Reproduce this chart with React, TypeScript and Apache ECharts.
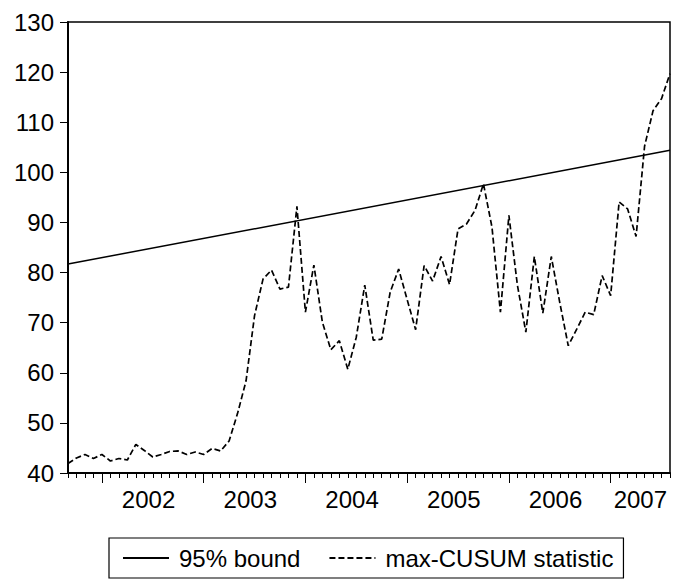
import React, { useEffect, useRef } from "react";
import * as echarts from "echarts";

const startYear = 2001;
const startMonth = 9;
const cusumValues = [
  41.9, 43.0, 43.7, 42.9, 43.7, 42.4, 42.9, 42.6, 45.7, 44.5,
  43.2, 43.7, 44.3, 44.4, 43.7, 44.2, 43.7, 44.9, 44.4, 46.4,
  51.9, 58.4, 71.4, 78.7, 80.5, 76.7, 77.1, 93.2, 72.1, 81.5,
  70.1, 64.6, 66.4, 60.7, 67.1, 77.5, 66.5, 66.7, 76.1, 80.7,
  74.6, 68.6, 81.4, 78.3, 83.2, 77.6, 88.7, 89.7, 92.4, 97.7,
  89.1, 72.1, 91.4, 77.5, 68.1, 83.2, 71.9, 83.2, 74.0, 65.4,
  68.7, 72.1, 71.6, 79.4, 75.4, 94.1, 92.7, 87.2, 105.2, 112.3,
  114.7, 119.7,
];
const boundEnds = [81.7, 104.4];
const yearLabelMonths = ["2002M07", "2003M07", "2004M07", "2005M07", "2006M07", "2007M05"];
const seriesNames = ["95% bound", "max-CUSUM statistic"];

const categories: string[] = cusumValues.map((_, i) => {
  const m0 = startMonth - 1 + i;
  const y = startYear + Math.floor(m0 / 12);
  const m = (m0 % 12) + 1;
  return `${y}M${m < 10 ? "0" + m : m}`;
});

const boundData = categories.map((_, i) =>
  i === 0 ? boundEnds[0] : i === categories.length - 1 ? boundEnds[1] : null
);

const FONT = "'Liberation Sans', Arial, Helvetica, sans-serif";

export default function App() {
  const ref = useRef<HTMLDivElement>(null);
  useEffect(() => {
    if (!ref.current) return;
    const chart = echarts.init(ref.current, null, { renderer: "svg" });
    const monthStep = 8.48;
    chart.setOption({
      animation: false,
      backgroundColor: "#fff",
      textStyle: { fontFamily: FONT },
      grid: {
        left: 68,
        right: 17,
        top: 22,
        bottom: 108,
        show: true,
        borderColor: "#000",
        borderWidth: 1.5,
        containLabel: false,
      },
      legend: {
        data: seriesNames,
        left: 109,
        top: 538,
        orient: "horizontal",
        padding: [8, 10, 8, 13],
        itemGap: 28,
        itemWidth: 46,
        itemHeight: 14,
        borderColor: "#000",
        borderWidth: 1.2,
        borderRadius: 0,
        itemStyle: {
          color: "transparent",
          borderColor: "transparent",
          borderWidth: 0,
          opacity: 0,
        },
        textStyle: {
          fontFamily: FONT,
          fontSize: 24,
          color: "#000",
          padding: [0, 0, 0, 5],
        },
      },
      xAxis: [
        {
          type: "category",
          data: categories,
          boundaryGap: false,
          axisLine: { show: true, lineStyle: { color: "#000", width: 2 } },
          axisTick: {
            show: true,
            interval: 0,
            length: 5,
            lineStyle: { color: "#000", width: 1 },
          },
          axisLabel: {
            interval: (_i: number, v: string) => yearLabelMonths.includes(v),
            formatter: (v: string) => v.slice(0, 4),
            fontFamily: FONT,
            fontSize: 24,
            color: "#000",
            margin: 14,
            padding: [0, monthStep, 0, 0],
          },
          splitLine: { show: false },
        },
        {
          type: "category",
          data: categories,
          boundaryGap: false,
          position: "bottom",
          offset: 0,
          axisLine: { show: false },
          axisTick: {
            show: true,
            interval: (_i: number, v: string) => v.endsWith("M01"),
            length: 10,
            lineStyle: { color: "#000", width: 1 },
          },
          axisLabel: { show: false },
          splitLine: { show: false },
        },
      ],
      yAxis: {
        type: "value",
        min: 40,
        max: 130,
        interval: 10,
        axisLine: { show: true, lineStyle: { color: "#000", width: 2 } },
        axisTick: { show: true, length: 8, lineStyle: { color: "#000", width: 1 } },
        axisLabel: {
          fontFamily: FONT,
          fontSize: 24,
          color: "#000",
          margin: 14,
        },
        splitLine: { show: false },
      },
      series: [
        {
          name: seriesNames[0],
          type: "line",
          data: boundData,
          connectNulls: true,
          symbol: "none",
          showSymbol: false,
          lineStyle: { color: "#000", width: 1.5, type: "solid" },
          itemStyle: { color: "#000" },
        },
        {
          name: seriesNames[1],
          type: "line",
          data: cusumValues,
          symbol: "none",
          showSymbol: false,
          lineStyle: { color: "#000", width: 1.7, type: [6, 3] },
          itemStyle: { color: "#000" },
        },
      ],
    });
    return () => chart.dispose();
  }, []);
  return (
    <div
      ref={ref}
      style={{ position: "fixed", left: 0, top: 0, width: 687, height: 581, background: "#fff" }}
    />
  );
}
